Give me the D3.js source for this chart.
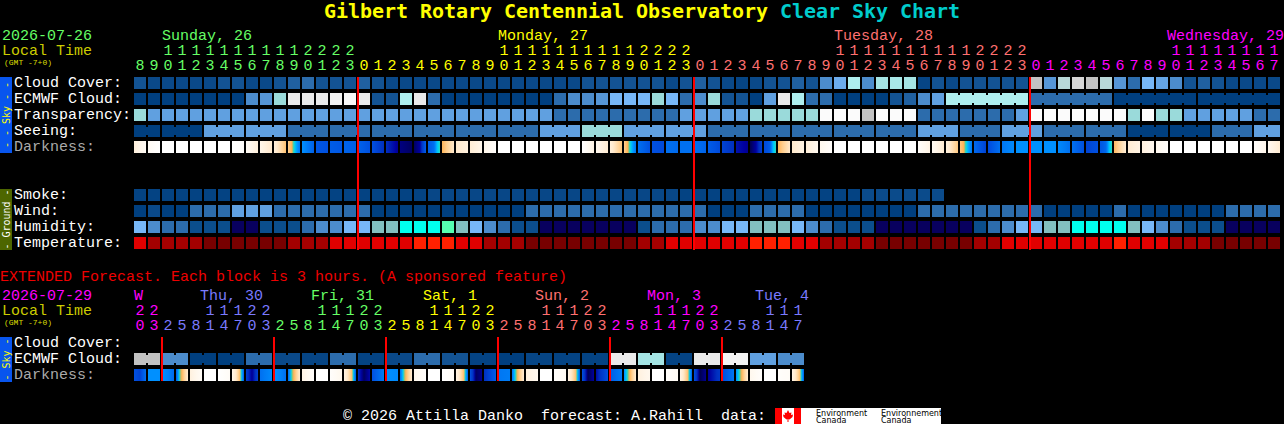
<!DOCTYPE html>
<html>
<head>
<meta charset="utf-8">
<title>Clear Sky Chart</title>
<script src="https://cdn.jsdelivr.net/npm/d3@7/dist/d3.min.js"></script>
<style>
  html, body { margin: 0; padding: 0; background: #000; overflow: hidden; }
  svg { display: block; }
  text { font-family: "Liberation Mono", monospace; font-size: 15px; white-space: pre; }
</style>
</head>
<body>
<svg id="chart" width="1284" height="424"></svg>
<script>
// hour columns of the main panel
const hours = [8,9,10,11,12,13,14,15,16,17,18,19,20,21,22,23,
  0,1,2,3,4,5,6,7,8,9,10,11,12,13,14,15,16,17,18,19,20,21,22,23,
  0,1,2,3,4,5,6,7,8,9,10,11,12,13,14,15,16,17,18,19,20,21,22,23,
  0,1,2,3,4,5,6,7,8,9,10,11,12,13,14,15,16,17];
const dayNames = ['Sunday, 26', 'Monday, 27', 'Tuesday, 28', 'Wednesday, 29'];

const cloudCover = [10,5,5,5,5,5,10,10,5,5,10,15,20,10,10,10,15,10,5,5,5,
  5,5,5,5,5,5,5,5,5,5,5,10,10,10,10,10,10,5,10,15,10,5,3,5,10,10,15,10,30,45,70,
  30,65,67,65,3,10,5,10,10,10,10,10,80,35,75,85,80,75,35,20,50,42,30,10,15,10,5,5,5,5];
const ecmwfCloud = [0,0,0,0,0,0,0,0,30,35,60,90,90,90,95,98,90,10,10,70,90,
  20,0,0,0,0,0,0,0,0,20,30,30,35,50,50,50,60,50,20,30,60,10,10,0,40,90,70,20,20,0,0,
  0,0,10,15,30,40,70,70,70,70,70,70,20,20,20,20,20,20,0,0,0,0,0,0,0,0,0,0,0,0];
const transparency = [60,40,40,40,40,40,40,40,40,40,40,40,40,40,40,40,40,40,40,40,40,
  40,40,40,40,40,40,40,40,40,20,20,20,20,20,20,20,20,20,40,40,40,40,40,60,60,60,60,60,100,100,100,
  80,100,100,100,20,20,20,20,20,20,20,40,100,100,100,100,100,100,100,60,100,60,60,40,40,40,40,40,20,20];
const seeing = [0,0,0,0,0,40,40,40,40,40,40,20,20,20,20,20,20,20,20,20,20,20,20,20,20,20,20,20,20,
  40,40,40,60,60,60,40,40,40,40,40,40,20,20,20,20,20,20,20,20,20,20,20,20,20,20,20,
  40,40,40,20,20,20,40,40,40,20,20,20,20,20,20,0,0,0,0,0,0,20,20,20,40,40];
const smoke = [2,2,2,2,2,2,2,2,2,2,2,2,2,2,2,2,2,2,2,2,2,
  4,4,4,4,4,4,4,4,4,4,4,4,4,4,4,4,4,4,2,2,2,2,2,2,2,2,2,2,2,2,2,
  6,6,6,6,6,6];
const wind = [0,5,0,0,20,20,20,40,40,40,20,20,20,20,20,20,20,0,0,0,0,
  0,0,0,0,0,0,0,20,20,20,20,20,20,20,20,20,20,20,20,20,0,0,0,20,20,20,20,0,0,0,0,
  0,0,0,0,20,20,20,20,20,20,20,20,20,0,0,0,0,0,20,0,0,0,0,0,0,0,20,20,20,20];
const humidity = [55,45,35,35,25,25,25,15,15,25,25,25,35,45,45,55,55,65,65,75,75,
  75,85,65,55,45,35,25,25,15,15,15,15,15,15,15,25,35,35,35,45,45,55,55,65,65,65,55,45,35,25,25,
  25,15,15,15,15,15,15,15,25,35,45,55,55,65,65,75,75,75,75,65,55,45,35,25,25,25,15,15,15,15];
const temperature = [25,20,20,20,20,16,16,16,16,16,16,20,20,20,25,25,25,25,25,25,30,
  30,30,25,25,20,20,20,16,16,16,16,16,16,16,16,20,20,25,25,25,25,25,25,30,30,30,25,25,20,20,20,
  20,16,16,16,16,16,16,16,20,20,25,25,25,25,25,25,25,25,30,25,25,25,20,20,20,16,16,16,16,16];
// limiting magnitude through each block, left to right
const darkness = [[-2.5,-3.5],[-3.5,-4],[-4],[-4],[-4],[-4],[-4],[-4,-3.8],[-3.5,-2.5],[-3,-2],[-2.5,-0.6],
  [-1,-0.2,1.4,2.8],[2,3.5],[3.8,4],[3.6,3.8],[3.4,3.6],[3.4,4],[4,5],[5,5.6],[5.7,5.9],[5.9,5.5,3.5],
  [3.6,3.4,3,1.2,0.4],[-0.3,-2],[-2,-2.6],[-2.3,-3],[-3,-3.8],[-4],[-4],[-4],[-4],[-4],[-4],
  [-4,-2.8],[-3.2,-2.2],[-2.5,-0.7],[-1,-0.2,1.4,2.8],[3,4],[4,4.2],[3,3.2],[3,3],[3,3.4],[3.6,4.2],
  [4.4,5],[5.3,5.6],[6,5.5,4.5],[4.2,4,3.6,1.2,0.4],[-0.3,-2],[-2,-2.8],[-2.4,-3.2],[-3.2,-3.8],[-4],[-4],
  [-4],[-4],[-4],[-4],[-3.8,-2.8],[-3.4,-2.2],[-2.6,-0.8],[-0.8,-0.2,1.4,2.8],[3.2,4.4],[4.2,3],[2.8,2.2],
  [2],[2],[2],[2.2,3],[3,4],[4.4,4],[3.8,3.6,3.2,1.2,0.4],[-0.4,-2.2],[-2.2,-2.8],[-2.6,-3.2],[-3.2,-3.8],
  [-4],[-4],[-4],[-4],[-4],[-4],[-3.8,-3],[-3.2,-2.2]];

// extended panel, one block per 3 hours
const extHours = [20,23,2,5,8,11,14,17,20,23,2,5,8,11,14,17,20,23,2,5,8,11,14,17,20,23,
  2,5,8,11,14,17,20,23,2,5,8,11,14,17,20,23,2,5,8,11,14,17];
const extDayNames = ['W', 'Thu, 30', 'Fri, 31', 'Sat, 1', 'Sun, 2', 'Mon, 3', 'Tue, 4'];
const extEcmwf = [80,80,30,30,0,0,0,0,20,20,5,5,3,3,20,20,2,2,5,5,20,20,10,10,2,2,0,0,
  3,3,2,2,2,2,90,90,65,65,2,2,90,90,95,95,40,40,30,30];
const extDarkness = [[4,4.4,3],[2,2,2],[2,2.4,3.2],[3.6,0.2,-1,-2.2],[-2.6,-3.6],[-4],[-4,-3.6],[-3,-2,-0.5,3.6],
  [4.6,5.6,4.5],[3,2.2],[2,2.4,3],[3.2,0.2,-1,-2.2],[-2.8,-3.8],[-4],[-3.8,-3.2],[-2.8,-1.8,-0.5,3.6],
  [5,5.9,5.4],[4,2.6],[2,2.2],[3,0.2,-1,-2.2],[-3.2,-3.8],[-4],[-4,-3.6],[-2.8,-1.8,-0.5,3.6],
  [4,5.9,5.6],[5,3.6],[2.8,2.6],[2.8,0.2,-1,-2.2],[-2.6,-3.2],[-4],[-3.8,-3.4],[-2.8,-1.8,-0.5,3.6],
  [4,6,5.5],[5.4,4],[3.6,2.6],[2,0.2,-1,-2.2],[-2.6,-3.2],[-4],[-3.8,-3.4],[-2.8,-1.8,-0.5,3.6],
  [4,6,5.6],[5.6,4.8],[4.2,2.8],[2,0.2,-1,-2.2],[-3.2,-3.8],[-4],[-3.8,-3.6],[-2.8,-1.8,-0.5,3.6]];

const width = 1284;
const yellow = '#ffff00', cyan = '#00cccc', olive = '#cccc00';
const dayColors = ['#66ff66', '#ffff00', '#ff7070', '#ff00ff'];
const extDayColors = ['#ff00ff', '#7a7aff', '#66ff66', '#ffff00', '#ff7070', '#ff00ff', '#7a7aff'];
const extDayX = [134, 200, 311, 423, 535, 647, 755];

const svg = d3.select('#chart');
svg.append('rect').attr('width', width).attr('height', 424).attr('fill', '#000');
const defs = svg.append('defs');

// colours
const cloudColor = d3.scaleLinear()
  .domain(d3.range(0, 101, 10))
  .range(['#003f7f','#135393','#2c6cac','#4c8ccc','#60a0e0','#77b7f7','#9adada','#aeeeee','#c2c2c2','#eaeaea','#fbfbfb']);
const humidityColor = d3.scaleThreshold()
  .domain([20, 30, 40, 50, 60, 70, 80])
  .range(['#08005e','#0b4e8c','#2c6cac','#4c8ccc','#77b7f7','#82bfbf','#00ffee','#55ffb0']);
const temperatureColor = d3.scaleThreshold()
  .domain([18, 23, 28])
  .range(['#780000','#a40000','#e00000','#ff2000']);
const darknessColor = d3.scaleLinear()
  .domain([-4,-3,-2,-1,-0.2,0.3,0.8,1.5,2,3,4,5,5.5,6])
  .range(['#ffffff','#fff6ea','#ffe9cc','#ffcf8f','#ffb050','#40d0a0','#00d8f0','#00a8ff','#0090ff','#0070f0','#0050e0','#0030c0','#0000a0','#000050']);

// scales
const x = d3.scaleBand().domain(d3.range(hours.length))
  .range([134, 134 + hours.length * 14 - 2]).paddingInner(1 / 7);
const skyRows = ['Cloud Cover:', 'ECMWF Cloud:', 'Transparency:', 'Seeing:', 'Darkness:'];
const groundRows = ['Smoke:', 'Wind:', 'Humidity:', 'Temperature:'];
const extRows = ['Cloud Cover:', 'ECMWF Cloud:', 'Darkness:'];
const rowScale = (rows, top) => d3.scaleBand().domain(rows)
  .range([top, top + rows.length * 16 - 4]).paddingInner(0.25);
const ySky = rowScale(skyRows, 77);
const yGround = rowScale(groundRows, 189);
const yExt = rowScale(extRows, 337);

function label(str, px, py, color, size, weight, family) {
  const t = svg.append('text').attr('x', px).attr('y', py).attr('fill', color)
    .style('font-size', (size || 15) + 'px').style('font-weight', weight || 'normal').text(str);
  if (family) t.style('font-family', family);
  return t;
}

function drawCells(values, y, color, bridged) {
  const g = svg.append('g');
  g.selectAll('rect.cell').data(values).join('rect')
    .attr('class', 'cell')
    .attr('x', (d, i) => x(i)).attr('y', y)
    .attr('width', x.bandwidth()).attr('height', 12)
    .attr('fill', d => color(d));
  if (bridged) {
    g.selectAll('rect.bridge')
      .data(values.map((d, i) => ({ d, i })).filter(c => c.i < values.length - 1 && bridged(c.i)))
      .join('rect')
      .attr('class', 'bridge')
      .attr('x', c => x(c.i) + x.bandwidth()).attr('y', y + 2)
      .attr('width', x.step() - x.bandwidth()).attr('height', 8)
      .attr('fill', c => color(c.d));
  }
}

let gradientId = 0;
function drawDarkness(values, y) {
  const g = svg.append('g');
  values.forEach((stops, i) => {
    if (stops.length === 1) {
      g.append('rect').attr('x', x(i)).attr('y', y).attr('width', x.bandwidth()).attr('height', 12)
        .attr('fill', darknessColor(stops[0]));
      return;
    }
    const id = 'dark' + (gradientId++);
    const mag = d3.piecewise(d3.interpolateNumber, stops);
    defs.append('linearGradient').attr('id', id)
      .selectAll('stop').data(d3.range(0, 1.001, 1 / 12)).join('stop')
      .attr('offset', t => t).attr('stop-color', t => darknessColor(mag(Math.min(t, 1))));
    g.append('rect').attr('x', x(i)).attr('y', y).attr('width', x.bandwidth()).attr('height', 12)
      .attr('fill', `url(#${id})`);
  });
}

function drawHourLabels(values, colorOf, tensY, onesY) {
  const g = svg.append('g').attr('text-anchor', 'middle');
  g.selectAll('text.tens').data(values).join('text')
    .attr('x', (d, i) => x(i) + x.bandwidth() / 2).attr('y', tensY)
    .attr('fill', (d, i) => colorOf(i))
    .text(d => d >= 10 ? Math.floor(d / 10) : '');
  g.selectAll('text.ones').data(values).join('text')
    .attr('x', (d, i) => x(i) + x.bandwidth() / 2).attr('y', onesY)
    .attr('fill', (d, i) => colorOf(i))
    .text(d => d % 10);
}

function sideBar(top, bottom, fill, color, str) {
  svg.append('rect').attr('x', 0).attr('y', top).attr('width', 12).attr('height', bottom - top).attr('fill', fill);
  svg.append('text')
    .attr('transform', `translate(9.5,${(top + bottom) / 2}) rotate(-90)`)
    .attr('text-anchor', 'middle').attr('fill', color)
    .style('font-family', '"DejaVu Sans Mono", monospace')
    .style('font-size', '10px').text(str);
}

// title
const title = label('', 324, 18, yellow, 20, 'bold', '"DejaVu Sans Mono", monospace').style('letter-spacing', '-0.04px');
title.append('tspan').text('Gilbert Rotary Centennial Observatory ');
title.append('tspan').attr('fill', cyan).text('Clear Sky Chart');

// main header
label('2026-07-26', 2, 40, dayColors[0]);
label('Local Time', 2, 55, olive);
label('(GMT -7+0)', 4, 65, '#dddd00', 8);

// day of each column, counted from the midnights in the hour list
const dayOf = [];
hours.reduce((day, h, i) => { const k = i > 0 && h === 0 ? day + 1 : day; dayOf.push(k); return k; }, 0);
drawHourLabels(hours, i => dayColors[dayOf[i]], 55, 70);

dayNames.forEach((name, k) => {
  const first = hours.findIndex((h, i) => dayOf[i] === k && h === 10);
  const px = Math.min(x(first), width - name.length * 9);
  label(name, px, 40, dayColors[k]);
});

// sky block
sideBar(77, 153, '#0855ee', yellow, '- - Sky - -');
skyRows.forEach(r => label(r, 14, ySky(r) + 10, r === 'Darkness:' ? '#aaaaaa' : '#ffffff'));
drawCells(cloudCover, ySky('Cloud Cover:'), cloudColor);
drawCells(ecmwfCloud, ySky('ECMWF Cloud:'), cloudColor,
  i => i >= 58 && (i - 58) % 6 !== 5);
drawCells(transparency, ySky('Transparency:'), cloudColor);
drawCells(seeing, ySky('Seeing:'), cloudColor, i => (i + 2) % 3 !== 0);
drawDarkness(darkness, ySky('Darkness:'));

// ground block
sideBar(189, 250, '#4d6600', '#ffffff', '- Ground -');
groundRows.forEach(r => label(r, 14, yGround(r) + 10, '#ffffff'));
drawCells(smoke, yGround('Smoke:'), cloudColor);
drawCells(wind, yGround('Wind:'), cloudColor);
drawCells(humidity, yGround('Humidity:'), humidityColor);
drawCells(temperature, yGround('Temperature:'), temperatureColor);

// midnight lines
svg.append('g').selectAll('rect')
  .data(hours.map((h, i) => (h === 0 ? i : -1)).filter(i => i >= 0)).join('rect')
  .attr('x', i => x(i) - 1).attr('y', 77).attr('width', 2).attr('height', 173).attr('fill', '#ff0000');

// extended forecast
label('EXTENDED Forecast. Each block is 3 hours. (A sponsored feature)', 0, 281, '#ee0000');
label('2026-07-29', 2, 300, '#ff00ff');
label('Local Time', 2, 315, olive);
label('(GMT -7+0)', 4, 325, '#dddd00', 8);

const extDayOf = [];
extHours.reduce((day, h, i) => { const k = i > 0 && h < extHours[i - 1] ? day + 1 : day; extDayOf.push(k); return k; }, 0);
drawHourLabels(extHours, i => extDayColors[extDayOf[i]], 315, 330);
extDayNames.forEach((name, k) => label(name, extDayX[k], 300, extDayColors[k]));

sideBar(337, 382, '#0855ee', yellow, '- Sky -');
extRows.forEach(r => label(r, 14, yExt(r) + 10, r === 'Darkness:' ? '#aaaaaa' : '#ffffff'));
drawCells(extEcmwf, yExt('ECMWF Cloud:'), cloudColor, i => i % 2 === 0);
drawDarkness(extDarkness, yExt('Darkness:'));

svg.append('g').selectAll('rect')
  .data(extHours.map((h, i) => (i > 0 && h < extHours[i - 1] ? i : -1)).filter(i => i >= 0)).join('rect')
  .attr('x', i => x(i) - 1).attr('y', 337).attr('width', 2).attr('height', 44).attr('fill', '#ff0000');

// footer
label('\u00a9 2026 Attilla Danko  forecast: A.Rahill  data:', 343, 420, '#ffffff');
const logo = svg.append('g').attr('transform', 'translate(775,408)');
logo.append('rect').attr('width', 166).attr('height', 16).attr('fill', '#ffffff');
logo.append('rect').attr('width', 7).attr('height', 16).attr('fill', '#ff0000');
logo.append('rect').attr('x', 19).attr('width', 7).attr('height', 16).attr('fill', '#ff0000');
logo.append('path').attr('fill', '#ff0000')
  .attr('d', 'M13 2 L14.5 5 L16.5 4.5 L16 7 L18 6.5 L17.5 9 L14.5 11.5 L13.5 11 L13.5 14 L12.5 14 L12.5 11 L11.5 11.5 L8.5 9 L8 6.5 L10 7 L9.5 4.5 L11.5 5 Z');
const logoText = [['Environment', 41, 8], ['Canada', 41, 15], ['Environnement', 106, 8], ['Canada', 106, 15]];
logo.selectAll('text').data(logoText).join('text')
  .attr('x', d => d[1]).attr('y', d => d[2]).attr('fill', '#000')
  .style('font-family', '"DejaVu Sans", sans-serif').style('font-size', '8px')
  .text(d => d[0]);
</script>
</body>
</html>
